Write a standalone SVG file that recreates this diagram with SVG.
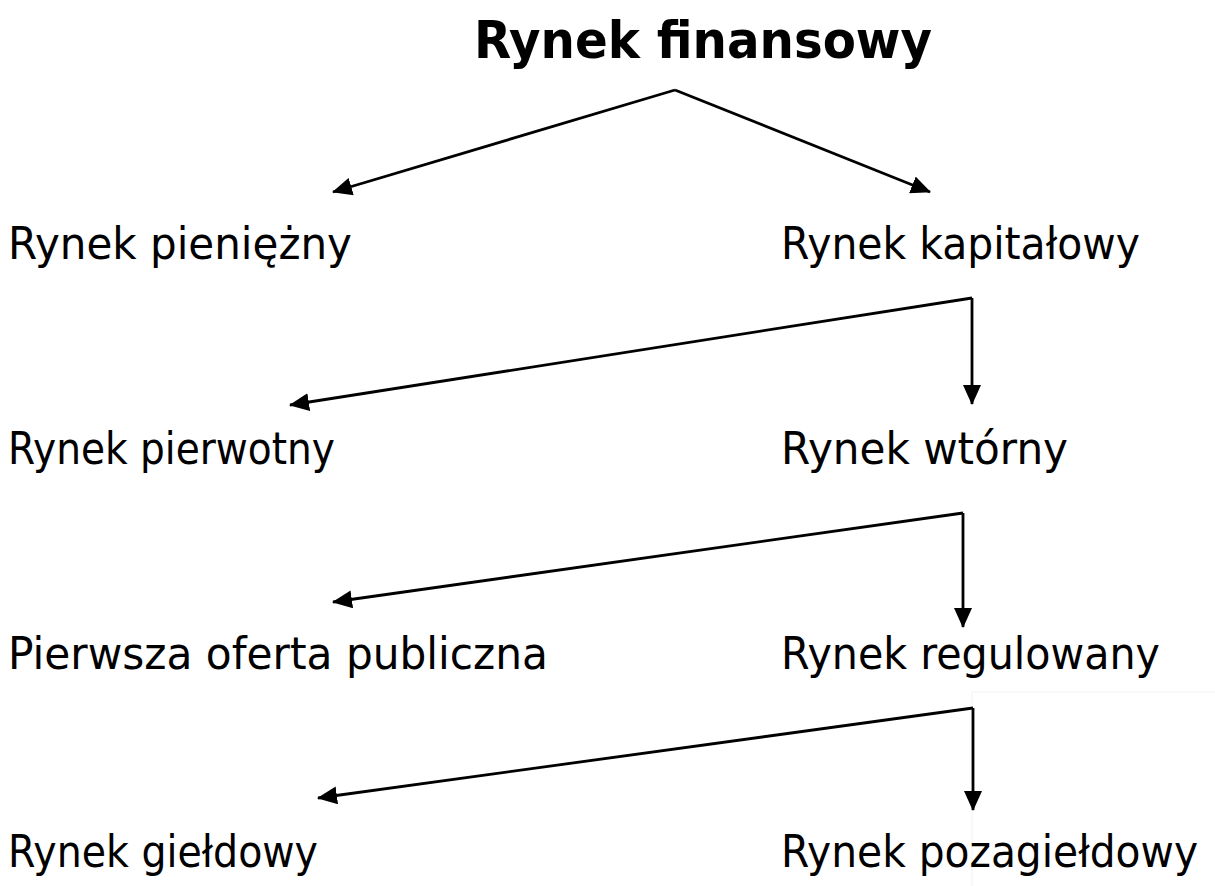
<svg xmlns="http://www.w3.org/2000/svg" width="1215" height="886" viewBox="0 0 1215 886">
<defs>
<style>
.t{font-family:"DejaVu Sans","Liberation Sans",sans-serif;font-size:44px;fill:#000}
.h{font-family:"DejaVu Sans","Liberation Sans",sans-serif;font-size:52px;font-weight:bold;fill:#000}
.c{fill:none;stroke:#000;stroke-width:2.8}
</style>
<marker id="arrow" markerWidth="20" markerHeight="18" refX="19" refY="9" orient="auto" markerUnits="userSpaceOnUse" viewBox="0 0 20 18">
<path d="M0,0 L20,9 L0,18 Z" fill="#000"/>
</marker>
</defs>
<rect width="1215" height="886" fill="#fff"/>
<path d="M972,692 H1215 M972,692 V886" fill="none" stroke="#f2f2f2" stroke-width="1"/>
<g id="connectors">
<path class="c" d="M675,90 L333,192" marker-end="url(#arrow)"/>
<path class="c" d="M675,90 L930,192" marker-end="url(#arrow)"/>
<path class="c" d="M972,298 L290,405" marker-end="url(#arrow)"/>
<path class="c" d="M972,298 L972,404" marker-end="url(#arrow)"/>
<path class="c" d="M963,513 L333,602" marker-end="url(#arrow)"/>
<path class="c" d="M963,513 L963,627" marker-end="url(#arrow)"/>
<path class="c" d="M973,708 L318,798" marker-end="url(#arrow)"/>
<path class="c" d="M973,708 L973,810" marker-end="url(#arrow)"/>
</g>
<g id="title"><text class="h" x="474" y="58" textLength="458" lengthAdjust="spacingAndGlyphs">Rynek finansowy</text></g>
<g id="n-pieniezny"><text class="t" x="8" y="259" textLength="344" lengthAdjust="spacingAndGlyphs">Rynek pieniężny</text></g>
<g id="n-kapitalowy"><text class="t" x="781" y="259" textLength="359" lengthAdjust="spacingAndGlyphs">Rynek kapitałowy</text></g>
<g id="n-pierwotny"><text class="t" x="8" y="464" textLength="327" lengthAdjust="spacingAndGlyphs">Rynek pierwotny</text></g>
<g id="n-wtorny"><text class="t" x="781" y="464" textLength="287" lengthAdjust="spacingAndGlyphs">Rynek wtórny</text></g>
<g id="n-ipo"><text class="t" x="8" y="669" textLength="540" lengthAdjust="spacingAndGlyphs">Pierwsza oferta publiczna</text></g>
<g id="n-regulowany"><text class="t" x="781" y="669" textLength="379" lengthAdjust="spacingAndGlyphs">Rynek regulowany</text></g>
<g id="n-gieldowy"><text class="t" x="8" y="867" textLength="310" lengthAdjust="spacingAndGlyphs">Rynek giełdowy</text></g>
<g id="n-pozagieldowy"><text class="t" x="781" y="867" textLength="417" lengthAdjust="spacingAndGlyphs">Rynek pozagiełdowy</text></g>
</svg>
